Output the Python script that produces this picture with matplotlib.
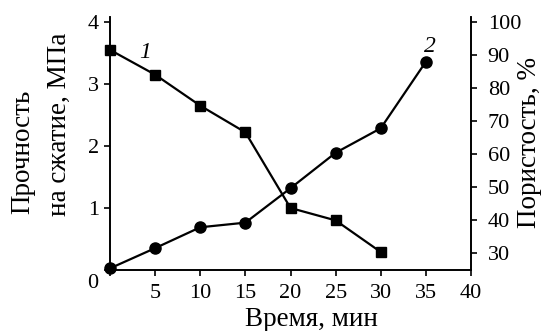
import matplotlib
matplotlib.use("Agg")
import matplotlib.pyplot as plt

plt.rcParams['font.family'] = ['Liberation Serif', 'DejaVu Serif']
plt.rcParams['font.size'] = 16

time_strength = [0, 5, 10, 15, 20, 25, 30]
strength = [3.55, 3.15, 2.65, 2.22, 1.0, 0.8, 0.29]
time_porosity = [0, 5, 10, 15, 20, 25, 30, 35]
porosity = [25.5, 31.6, 37.9, 39.3, 49.7, 60.4, 67.8, 87.9]

x_ticks = [0, 5, 10, 15, 20, 25, 30, 35, 40]
x_labels = ["", "5", "10", "15", "20", "25", "30", "35", "40"]
left_ticks = [0, 1, 2, 3, 4]
left_labels = ["", "1", "2", "3", "4"]
right_ticks = [30, 40, 50, 60, 70, 80, 90, 100]

W, H = 545, 331
fig = plt.figure(figsize=(W / 100, H / 100), dpi=100)
ax = fig.add_axes([110 / W, 1 - 270 / H, (471 - 110) / W, (270 - 17) / H])
ax2 = ax.twinx()

ax.plot(time_strength, strength, color='black', lw=1.6, marker='s', ms=7.5, clip_on=False, zorder=3)
ax2.plot(time_porosity, porosity, color='black', lw=1.6, marker='o', ms=8, clip_on=False, zorder=3)

ax.set_xlim(0, 40)
ax.set_ylim(0, 4.08)
ax2.set_ylim(25, 101.4)

ax.set_xticks(x_ticks)
ax.set_xticklabels(x_labels)
ax.set_yticks(left_ticks)
ax.set_yticklabels(left_labels)
ax2.set_yticks(right_ticks)

for a in (ax, ax2):
    a.spines['top'].set_visible(False)
    for s in a.spines.values():
        s.set_linewidth(1.2)
    a.tick_params(direction='out', length=4, width=1.2, labelsize=16)
ax.tick_params(axis='x', pad=6)
ax.tick_params(axis='y', pad=4)
ax2.tick_params(axis='y', pad=8)

def fx(px):
    return px / W

def fy(py):
    return 1 - py / H

fig.text(fx(311), fy(326), "Время, мин", fontsize=19.5, ha='center', va='baseline')
fig.text(fx(10), fy(214), "Прочность", fontsize=19.5, rotation=90, ha='left', va='bottom')
fig.text(fx(47), fy(216), "на сжатие, МПа", fontsize=19.5, rotation=90, ha='left', va='bottom')
fig.text(fx(517), fy(142), "Пористость, %", fontsize=19.5, rotation=90, ha='left', va='center')

fig.text(fx(93), fy(283), "0", fontsize=16, ha='center', va='center')
fig.text(fx(145), fy(52), "1", fontsize=17, style='italic', ha='center', va='center')
fig.text(fx(430), fy(46), "2", fontsize=17, style='italic', ha='center', va='center')

fig.savefig("out.png", dpi=100)
